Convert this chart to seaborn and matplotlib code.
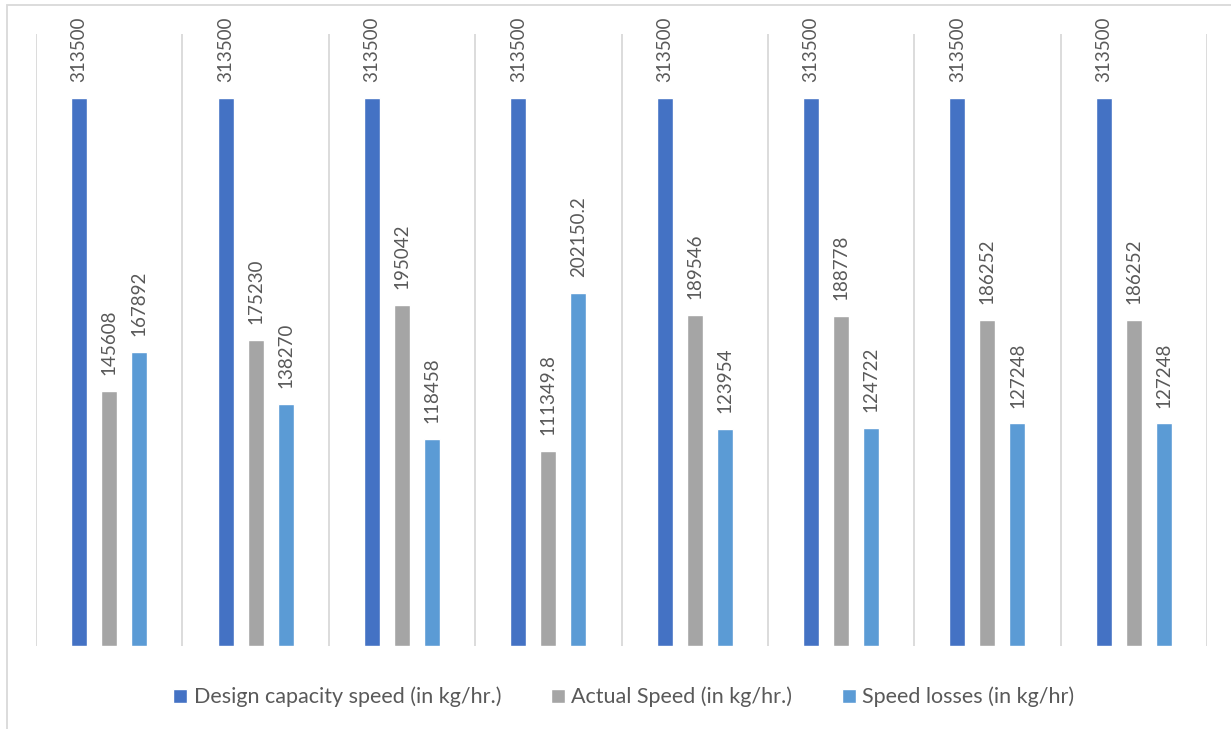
import matplotlib
matplotlib.use("Agg")
import matplotlib.pyplot as plt
from matplotlib.patches import Rectangle
import seaborn as sns
import pandas as pd

# Production line speeds, eight periods
periods = ["P1", "P2", "P3", "P4", "P5", "P6", "P7", "P8"]
design_speed = [313500, 313500, 313500, 313500, 313500, 313500, 313500, 313500]
actual_speed = [145608, 175230, 195042, 111349.8, 189546, 188778, 186252, 186252]
speed_losses = [167892, 138270, 118458, 202150.2, 123954, 124722, 127248, 127248]
series_names = [
    "Design capacity speed (in kg/hr.)",
    "Actual Speed (in kg/hr.)",
    "Speed losses (in kg/hr)",
]
series_colors = ["#4472C4", "#A5A5A5", "#5B9BD5"]

rows = []
for name, values in zip(series_names, [design_speed, actual_speed, speed_losses]):
    for p, v in zip(periods, values):
        rows.append({"period": p, "series": name, "value": v})
df = pd.DataFrame(rows)

sns.set_theme(style="white")
plt.rcParams["font.family"] = ["Lato", "DejaVu Sans"]

W, H = 1231, 729
fig = plt.figure(figsize=(W / 100, H / 100), dpi=100)
ax = fig.add_axes([36 / W, 1 - 646 / H, (1207 - 36) / W, (646 - 34) / H])

sns.barplot(
    data=df, x="period", y="value", hue="series",
    hue_order=series_names, palette=series_colors,
    width=0.615, gap=0.47, saturation=1, ax=ax, legend=True,
)

ax.set_ylim(0, 350000)
ax.set_xlim(-0.5, len(periods) - 0.5)

# category separators
ax.set_xticks([i - 0.5 for i in range(len(periods) + 1)], minor=True)
ax.grid(which="minor", axis="x", color="#D9D9D9", linewidth=1.3)
ax.grid(which="major", visible=False)
ax.tick_params(which="both", length=0, labelbottom=False, labelleft=False)
ax.set_xlabel("")
ax.set_ylabel("")
for s in ax.spines.values():
    s.set_visible(False)


def fmt(v):
    return f"{v:.1f}".rstrip("0").rstrip(".")


for cont in ax.containers:
    ax.bar_label(cont, labels=[fmt(b.get_height()) for b in cont],
                 rotation=90, padding=11.5, color="#595959", fontsize=13.5)

handles, labels = ax.get_legend_handles_labels()
ax.get_legend().remove()
fig.legend(handles, labels, loc="center", bbox_to_anchor=(624 / W, 1 - 697 / H),
           ncol=3, frameon=False, fontsize=15.5, labelcolor="#595959",
           handlelength=0.65, handleheight=0.65, handletextpad=0.3,
           columnspacing=2.3)

# chart frame
fig.patches.append(Rectangle((7 / W, -0.2), 2, 1.2 - 5 / H, transform=fig.transFigure,
                             fill=False, edgecolor="#D9D9D9", linewidth=1.3))

fig.savefig("out.png", dpi=100, facecolor="white")
